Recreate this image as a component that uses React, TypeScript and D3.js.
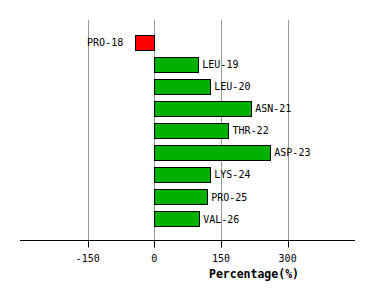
import React from "react";
import * as d3 from "d3";

const residues = ["PRO-18", "LEU-19", "LEU-20", "ASN-21", "THR-22", "ASP-23", "LYS-24", "PRO-25", "VAL-26"];
const values = [-43, 99, 126, 218, 167, 261, 126, 119, 101];
const tickValues = [-150, 0, 150, 300];
const xDomain = [-300, 450];
const axisTitle = "Percentage(%)";

export default function App() {
  const W = 374, H = 300;
  const x = d3.scaleLinear().domain(xDomain).range([21, 354.3]);
  const y = d3.scaleBand<string>().domain(residues).range([31.7, 230.1]).paddingInner(0.3).paddingOuter(0.15);
  const axisY = 240.5;
  const font = "'DejaVu Sans Mono', monospace";
  return (
    <div style={{ position: "absolute", left: 0, top: 0 }}>
      <svg width={W} height={H} style={{ display: "block", background: "#fff" }}>
        {tickValues.map((t) => (
          <line key={"g" + t} x1={Math.round(x(t)) + 0.5} x2={Math.round(x(t)) + 0.5} y1={20} y2={axisY} stroke="#999" strokeWidth={1} />
        ))}
        {residues.map((r, i) => {
          const v = values[i];
          const x0 = x(Math.min(0, v));
          const x1 = x(Math.max(0, v));
          const yy = y(r)!;
          const h = y.bandwidth();
          return (
            <g key={r}>
              <rect x={Math.round(x0) + 0.5} y={Math.round(yy) + 0.5} width={Math.round(x1 - x0)} height={Math.round(h)} fill={v < 0 ? "#ff0000" : "#00b000"} stroke="#000" strokeWidth={1} />
              <text
                x={v < 0 ? x0 - 12 : x1 + 4}
                y={yy + h / 2}
                dy="0.35em"
                textAnchor={v < 0 ? "end" : "start"}
                fontFamily={font}
                fontSize={10}
                fill="#000"
              >
                {r}
              </text>
            </g>
          );
        })}
        <line x1={20} x2={355} y1={axisY} y2={axisY} stroke="#000" strokeWidth={1} />
        {tickValues.map((t) => (
          <g key={"t" + t}>
            <line x1={Math.round(x(t)) + 0.5} x2={Math.round(x(t)) + 0.5} y1={axisY} y2={axisY + 7} stroke="#000" strokeWidth={1} />
            <text x={x(t)} y={258} dy="0.35em" textAnchor="middle" fontFamily={font} fontSize={10} fill="#000">
              {t}
            </text>
          </g>
        ))}
        <text x={254} y={274} dy="0.35em" textAnchor="middle" fontFamily={font} fontSize={11.5} fontWeight="bold" fill="#000">
          {axisTitle}
        </text>
      </svg>
    </div>
  );
}
